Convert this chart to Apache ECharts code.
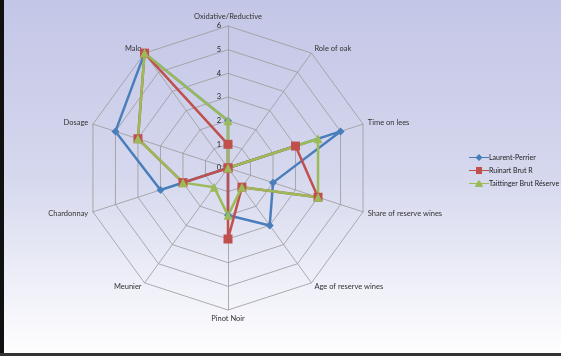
<!DOCTYPE html>
<html>
<head>
<meta charset="utf-8">
<script src="https://cdn.jsdelivr.net/npm/echarts@6/dist/echarts.min.js"></script>
<style>
  html, body { margin: 0; padding: 0; }
  #chart { width: 561px; height: 356px; }
</style>
</head>
<body>
<div id="chart"></div>
<script>
// axes, clockwise from the top
const categories = ['Oxidative/Reductive', 'Role of oak', 'Time on lees', 'Share of reserve wines',
    'Age of reserve wines', 'Pinot Noir', 'Meunier', 'Chardonnay', 'Dosage', 'Malo']
const seriesNames = ['Laurent-Perrier', 'Ruinart Brut R', 'Taittinger Brut Réserve']
const laurentPerrier = [2, 0, 5, 2, 3, 2, 0, 3, 5, 6]
const ruinart = [1, 0, 3, 4, 1, 3, 0, 2, 4, 6]
const taittinger = [2, 0, 4, 4, 1, 2, 1, 2, 4, 6]
const axisMax = 6

const colors = ['#4a7ebb', '#c0504d', '#9bbb59']
const symbols = ['diamond', 'rect', 'triangle']
const symbolSizes = [8, 9, 9]
// little line + marker pictures for the legend
const legendIcons = [
    'path://M0,3L7,3L10,0L13,3L20,3L20,4L13,4L10,7L7,4L0,4Z',
    'path://M0,3L7,3L7,0L13,0L13,3L20,3L20,4L13,4L13,7L7,7L7,4L0,4Z',
    'path://M0,3L7.5,3L10,0L12.5,3L20,3L20,4L13,4L14,7L6,7L7,4L0,4Z'
]
const fontFamily = 'Lato, "Open Sans", sans-serif'

// echarts draws radar axes counter-clockwise, the original goes clockwise
const reorder = arr => [arr[0]].concat(arr.slice(1).reverse())

const chart = echarts.init(document.getElementById('chart'))

const option = {
    backgroundColor: {
        type: 'linear', x: 0, y: 0, x2: 0, y2: 1,
        colorStops: [
            { offset: 0, color: '#c3c6e6' },
            { offset: 0.5, color: '#d6d8ee' },
            { offset: 1, color: '#ffffff' }
        ]
    },
    textStyle: { fontFamily: fontFamily },
    legend: {
        orient: 'vertical',
        left: 464,
        top: 149,
        itemGap: 6,
        itemWidth: 20,
        itemHeight: 7,
        data: seriesNames.map((name, i) => ({ name: name, icon: legendIcons[i] })),
        textStyle: { fontSize: 7, color: '#222', fontFamily: fontFamily, padding: [0, 0, 0, -5] }
    },
    radar: {
        center: [228, 168],
        radius: 142,
        shape: 'polygon',
        splitNumber: 6,
        startAngle: 90,
        nameGap: 5,
        axisName: { color: '#333', fontSize: 7.5, fontFamily: fontFamily },
        axisLine: { lineStyle: { color: '#999', width: 0.8 } },
        splitLine: { lineStyle: { color: '#999', width: 0.8 } },
        splitArea: { show: false },
        axisTick: { show: false },
        axisLabel: { show: false },
        indicator: reorder(categories).map((name, i) => {
            const ind = { name: name, min: 0, max: axisMax }
            if (i === 0) {
                ind.axisLabel = {
                    show: true, color: '#222', fontSize: 7.5, margin: 0,
                    align: 'right', verticalAlign: 'middle', padding: [0, 7, 0, 0],
                    fontFamily: fontFamily
                }
            }
            return ind
        })
    },
    graphic: [
        { type: 'rect', shape: { x: 0, y: 0, width: 4, height: 356 }, style: { fill: '#111' } },
        { type: 'rect', shape: { x: 0, y: 353, width: 561, height: 3 }, style: { fill: '#333' } }
    ],
    series: [{
        type: 'radar',
        z: 2,
        data: [laurentPerrier, ruinart, taittinger].map((vals, i) => ({
            name: seriesNames[i],
            value: reorder(vals),
            symbol: symbols[i],
            symbolSize: symbolSizes[i],
            lineStyle: { color: colors[i], width: 2.5 },
            itemStyle: { color: colors[i] }
        }))
    }]
}

chart.setOption(option)
</script>
</body>
</html>
